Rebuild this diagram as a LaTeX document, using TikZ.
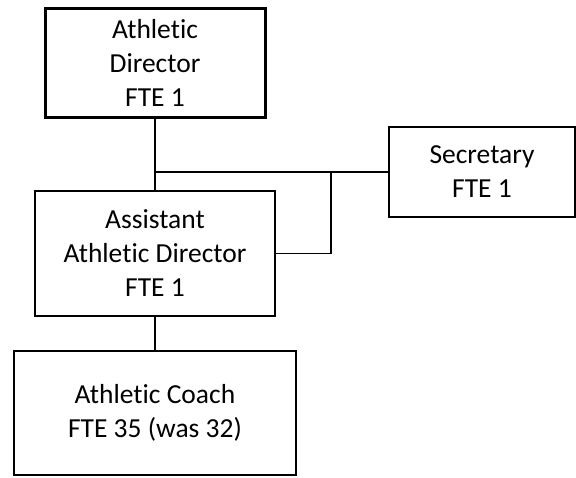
\documentclass[tikz,border=0pt]{standalone}
\usepackage{fontspec}
\setmainfont[Ligatures={NoCommon}]{Carlito}
\begin{document}
\begin{tikzpicture}[x=1pt,y=-1pt,
  box/.style={draw=black,line width=1.6pt,fill=white,align=center,
    inner sep=0pt,font=\fontsize{27.5}{34}\selectfont},
  link/.style={draw=black,line width=1.8pt}]
  \useasboundingbox (0,0) rectangle (576,477);
  % org chart boxes
  \node[box,line width=3pt,minimum width=220,minimum height=109] (ad) at (155,62.5)
    {Athletic\\Director\\FTE 1};
  \node[box,minimum width=186,minimum height=90] (sec) at (482,172)
    {Secretary\\FTE 1};
  \node[box,minimum width=240,minimum height=125] (aad) at (155,253.5)
    {Assistant\\Athletic Director\\FTE 1};
  \node[box,minimum width=282,minimum height=124] (coach) at (155,413)
    {Athletic Coach\\FTE 35 (was 32)};
  % reporting lines
  \coordinate (branch) at (331,172);
  \draw[link] (ad.south) -- (aad.north);
  \draw[link] (ad.south |- sec.west) -- (sec.west);
  \draw[link] (aad.east) -| (branch);
  \draw[link] (aad.south) -- (coach.north);
\end{tikzpicture}
\end{document}
